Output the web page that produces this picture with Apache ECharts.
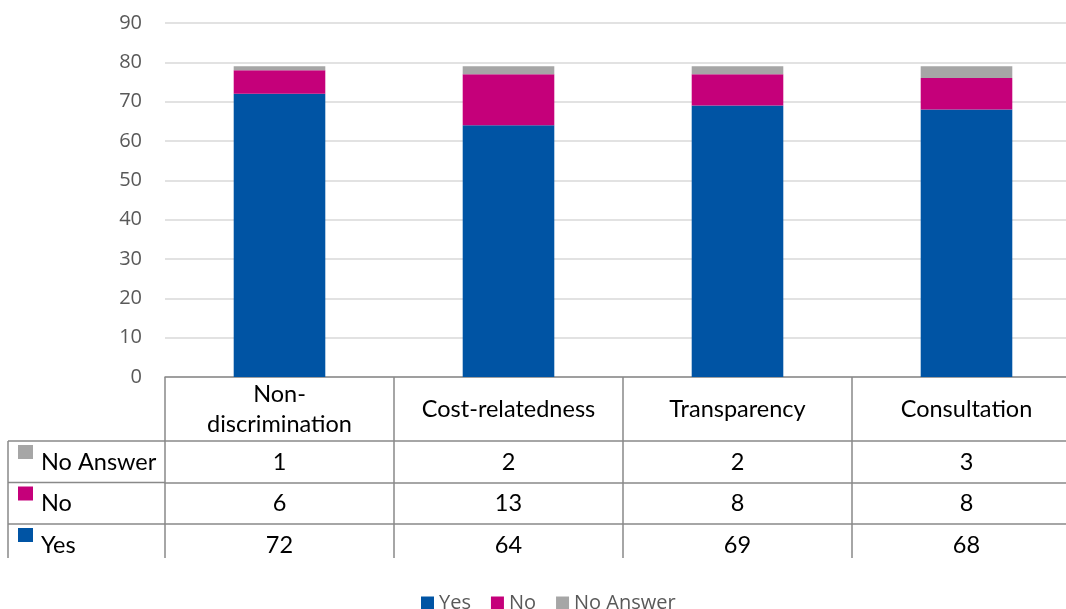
<!DOCTYPE html>
<html><head><meta charset="utf-8">
<script src="https://cdn.jsdelivr.net/npm/echarts@6/dist/echarts.min.js"></script>
<style>html,body{margin:0;padding:0;background:#fff;overflow:hidden}#c{width:1081px;height:609px}</style>
</head><body><div id="c"></div>
<script>
// ---- data ----
const categories = ['Non-discrimination', 'Cost-relatedness', 'Transparency', 'Consultation'];
const yesValues = [72, 64, 69, 68];
const noValues = [6, 13, 8, 8];
const noAnswerValues = [1, 2, 2, 3];
const seriesNames = ['Yes', 'No', 'No Answer'];
const yMin = 0, yMax = 90, yStep = 10;

// ---- style / layout ----
const COL = { yes: '#0054A4', no: '#C5007A', na: '#A6A6A6' };
const LINE = { color: '#898989', width: 1.5 };
const GRID = { left: 165, top: 23, right: 0, height: 354 };
const HEADER_H = 64;
const ROW_H = [41.5, 41.5, 34];
const TABLE_LEFT = 8;
const TFONT = 'Lato, "Noto Sans", sans-serif';
const TSIZE = 23.5;

const rows = [
  { name: 'No Answer', values: noAnswerValues, color: COL.na },
  { name: 'No', values: noValues, color: COL.no },
  { name: 'Yes', values: yesValues, color: COL.yes }
];

const chart = echarts.init(document.getElementById('c'), null, { renderer: 'canvas' });

const axisBottom = GRID.top + GRID.height;
const xAxes = [{
  type: 'category', data: categories, gridIndex: 0, position: 'bottom',
  axisLine: { show: true, lineStyle: LINE },
  axisTick: { show: true, length: HEADER_H, interval: 0, lineStyle: LINE },
  axisLabel: {
    interval: 0, margin: 32, verticalAlign: 'middle', lineHeight: 30,
    fontFamily: TFONT, fontSize: TSIZE, color: '#000',
    formatter: v => v === 'Non-discrimination' ? 'Non-\ndiscrimination' : v
  },
  splitLine: { show: false }
}];

let off = HEADER_H;
const graphics = [];
rows.forEach((r, k) => {
  xAxes.push({
    type: 'category', data: categories, gridIndex: 0, position: 'bottom', offset: off,
    axisLine: { show: true, lineStyle: LINE },
    axisTick: { show: true, length: ROW_H[k], interval: 0, lineStyle: LINE },
    axisLabel: {
      interval: 0, margin: 21, verticalAlign: 'middle',
      fontFamily: TFONT, fontSize: TSIZE, color: '#000',
      formatter: (v, i) => String(r.values[i])
    },
    splitLine: { show: false }
  });
  const top = axisBottom + off;
  graphics.push({ type: 'line', shape: { x1: TABLE_LEFT, y1: top, x2: GRID.left, y2: top }, style: { stroke: LINE.color, lineWidth: LINE.width }, silent: true });
  graphics.push({ type: 'rect', shape: { x: TABLE_LEFT + 10, y: top + 4, width: 15, height: 14 }, style: { fill: r.color }, silent: true });
  graphics.push({ type: 'text', x: TABLE_LEFT + 33, y: top + 21, style: { text: r.name, font: TSIZE + 'px ' + TFONT, fill: '#000', verticalAlign: 'middle', align: 'left' }, silent: true });
  off += ROW_H[k];
});
graphics.push({ type: 'line', shape: { x1: TABLE_LEFT, y1: axisBottom + HEADER_H, x2: TABLE_LEFT, y2: axisBottom + off }, style: { stroke: LINE.color, lineWidth: LINE.width }, silent: true });

const mk = (name, data, color) => ({
  name, type: 'bar', stack: 'total', data, barWidth: '40%',
  xAxisIndex: 0, yAxisIndex: 0, itemStyle: { color }, emphasis: { disabled: true }
});

chart.setOption({
  animation: false,
  backgroundColor: '#fff',
  grid: [{ left: GRID.left, top: GRID.top, right: GRID.right, height: GRID.height, containLabel: false }],
  legend: {
    data: seriesNames, left: 416, top: 588, icon: 'rect', itemWidth: 13, itemHeight: 13, itemGap: 20,
    textStyle: { fontFamily: '"Open Sans", sans-serif', fontSize: 20, color: '#595959' }
  },
  xAxis: xAxes,
  yAxis: [{
    type: 'value', min: yMin, max: yMax, interval: yStep,
    axisLine: { show: false }, axisTick: { show: false },
    axisLabel: { margin: 23, fontFamily: '"Open Sans", sans-serif', fontSize: 20, color: '#595959' },
    splitLine: { lineStyle: { color: '#D9D9D9', width: 1.5 } }
  }],
  series: [
    mk(seriesNames[0], yesValues, COL.yes),
    mk(seriesNames[1], noValues, COL.no),
    mk(seriesNames[2], noAnswerValues, COL.na)
  ],
  graphic: graphics
});
</script></body></html>
